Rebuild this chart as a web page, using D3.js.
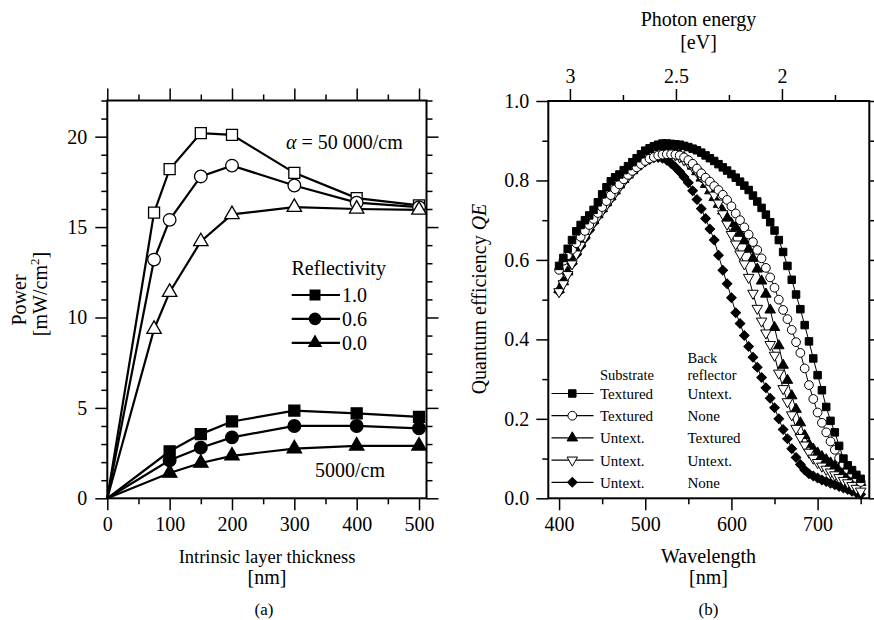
<!DOCTYPE html>
<html>
<head>
<meta charset="utf-8">
<script src="https://cdn.jsdelivr.net/npm/d3@7/dist/d3.min.js"></script>
<style>
  body { margin: 0; background: #fff; }
  svg text { font-family: "Liberation Serif", "Tinos", "Times New Roman", "Nimbus Roman", "DejaVu Serif", "Noto Serif", serif !important; fill: #000; }
</style>
</head>
<body>
<svg id="chart" width="874" height="620"></svg>
<script>
// ---- panel (a): power vs intrinsic layer thickness ----
const thickHigh = [0, 75, 100, 150, 200, 300, 400, 500]
const thickLow = [0, 100, 150, 200, 300, 400, 500]
const highR10 = [0, 15.8, 18.2, 20.2, 20.1, 18.0, 16.6, 16.2]
const highR06 = [0, 13.2, 15.4, 17.8, 18.4, 17.3, 16.35, 16.1]
const highR00 = [0, 9.35, 11.4, 14.2, 15.7, 16.1, 16.0, 15.95]
const lowR10 = [0, 2.6, 3.55, 4.25, 4.85, 4.7, 4.5]
const lowR06 = [0, 2.1, 2.8, 3.37, 4.0, 4.0, 3.87]
const lowR00 = [0, 1.4, 1.95, 2.35, 2.75, 2.9, 2.9]
const reflectivity = ["1.0", "0.6", "0.0"]
const thickMajor = [0, 100, 200, 300, 400, 500]
const thickMinor = [50, 150, 250, 350, 450]
const powerMajor = [0, 5, 10, 15, 20]
const powerMinor = [1, 2, 3, 4, 6, 7, 8, 9, 11, 12, 13, 14, 16, 17, 18, 19, 21, 22]

// ---- panel (b): quantum efficiency vs wavelength ----
const wavelength = [400, 405, 410, 415, 420, 425, 430, 435, 440, 445, 450, 455, 460, 465, 470, 475,
  480, 485, 490, 495, 500, 505, 510, 515, 520, 525, 530, 535, 540, 545, 550, 555, 560, 565, 570, 575,
  580, 585, 590, 595, 600, 605, 610, 615, 620, 625, 630, 635, 640, 645, 650, 655, 660, 665, 670, 675,
  680, 685, 690, 695, 700, 705, 710, 715, 720, 725, 730, 735, 740, 745, 750]
const qeTexUntext = [.585, .605, .628, .650, .672, .688, .700, .712, .726, .745, .765, .783, .798, .808, .815, .826,
  .836, .846, .856, .866, .875, .881, .886, .890, .893, .893, .892, .891, .890, .887, .884, .880, .876, .870, .863, .856,
  .849, .841, .833, .825, .816, .807, .797, .787, .776, .762, .747, .731, .714, .695, .674, .650, .620, .585, .550, .513,
  .476, .436, .395, .352, .310, .272, .230, .195, .166, .132, .100, .083, .071, .059, .049]
const qeTexNone = [.575, .598, .612, .626, .642, .658, .673, .688, .703, .718, .733, .748, .763, .778, .790, .803,
  .814, .824, .833, .841, .849, .855, .859, .863, .865, .866, .866, .865, .863, .858, .851, .842, .830, .818, .807, .797,
  .786, .776, .764, .751, .735, .717, .700, .682, .664, .645, .625, .604, .580, .556, .530, .500, .474, .451, .424, .393,
  .366, .327, .285, .250, .216, .190, .166, .143, .122, .101, .086, .073, .062, .051, .041]
const qeUntextTex = [.525, .545, .570, .598, .622, .643, .663, .683, .699, .714, .729, .744, .759, .774, .789, .803,
  .814, .825, .835, .845, .854, .861, .867, .872, .875, .876, .875, .872, .866, .858, .848, .836, .822, .806, .790, .774,
  .757, .740, .723, .706, .692, .682, .667, .648, .627, .604, .577, .547, .514, .474, .430, .384, .335, .297, .258, .224,
  .190, .158, .136, .124, .114, .105, .097, .089, .082, .075, .068, .061, .054, .047, .040]
const qeUntextUntext = [.520, .540, .563, .590, .615, .637, .657, .677, .694, .709, .724, .739, .754, .769, .784, .798,
  .810, .821, .831, .841, .850, .857, .863, .867, .869, .869, .867, .864, .859, .852, .844, .834, .822, .809, .796, .781,
  .763, .743, .716, .690, .664, .640, .615, .590, .556, .516, .478, .446, .416, .387, .360, .315, .276, .243, .210, .176,
  .153, .134, .116, .101, .090, .081, .073, .066, .059, .052, .045, .039, .032, .025, .018]
const qeUntextNone = [.520, .545, .566, .590, .613, .634, .654, .674, .693, .709, .724, .739, .754, .769, .784, .798,
  .810, .821, .831, .840, .847, .853, .857, .858, .856, .851, .843, .833, .822, .809, .794, .774, .752, .729, .704, .678,
  .650, .612, .574, .540, .505, .467, .440, .410, .382, .355, .330, .304, .278, .252, .228, .200, .173, .150, .125, .103,
  .085, .071, .062, .056, .051, .046, .042, .038, .034, .030, .026, .022, .018, .014, .010]
const substrate = ["Textured", "Textured", "Untext.", "Untext.", "Untext."]
const backReflector = ["Untext.", "None", "Textured", "Untext.", "None"]
const waveMajor = [400, 500, 600, 700]
const waveMinor = [450, 550, 650, 750]
const qeMajor = [0, 0.2, 0.4, 0.6, 0.8, 1.0]
const qeMinor = [0.1, 0.3, 0.5, 0.7, 0.9]
const energyMajor = [3, 2.5, 2]
const energyMinor = [2.75, 2.25, 1.75]

const svg = d3.select('#chart')
const FONT = 20

// symbols
const sq = (s) => d3.symbol().type(d3.symbolSquare).size(s)()
const ci = (s) => d3.symbol().type(d3.symbolCircle).size(s)()
const tri = (s) => d3.symbol().type(d3.symbolTriangle).size(s)()

function axisPair(g, axisFn, scale, majors, minors, fmt, pad, tr) {
    const a = g.append('g').attr('transform', tr)
        .call(axisFn(scale).tickValues(minors).tickSize(6).tickFormat(''))
    const b = g.append('g').attr('transform', tr)
        .call(axisFn(scale).tickValues(majors).tickSize(12).tickPadding(pad).tickFormat(fmt))
    for (const s of [a, b]) {
        s.select('.domain').remove()
        s.selectAll('line').attr('stroke', '#000').attr('stroke-width', 1.5)
        s.attr('font-size', FONT).attr('font-family', null)
    }
}

function frame(x, y) {
    svg.append('rect')
        .attr('x', x.range()[0]).attr('y', y.range()[1])
        .attr('width', x.range()[1] - x.range()[0])
        .attr('height', y.range()[0] - y.range()[1])
        .attr('fill', 'none').attr('stroke', '#000').attr('stroke-width', 2)
}

// ================= panel (a) =================
const xa = d3.scaleLinear().domain([0, 512]).range([107.3, 426.5])
const ya = d3.scaleLinear().domain([0, 22]).range([498.3, 100.5])
const ga = svg.append('g')

axisPair(ga, d3.axisBottom, xa, thickMajor, thickMinor, d3.format('d'), 7, `translate(0,${ya(0)})`)
axisPair(ga, d3.axisTop, xa, thickMajor, thickMinor, '', 0, `translate(0,${ya.range()[1]})`)
axisPair(ga, d3.axisLeft, ya, powerMajor, powerMinor, d3.format('d'), 8, `translate(${xa(0)},0)`)
axisPair(ga, d3.axisRight, ya, powerMajor, powerMinor, '', 0, `translate(${xa.range()[1]},0)`)

const lineA = d3.line()
const seriesA = [
    { x: thickHigh, y: highR10, shape: 'sq', fill: '#fff' },
    { x: thickHigh, y: highR06, shape: 'ci', fill: '#fff' },
    { x: thickHigh, y: highR00, shape: 'tri', fill: '#fff' },
    { x: thickLow, y: lowR10, shape: 'sq', fill: '#000' },
    { x: thickLow, y: lowR06, shape: 'ci', fill: '#000' },
    { x: thickLow, y: lowR00, shape: 'tri', fill: '#000' }
]
const bigSym = { sq: sq(121), ci: ci(125), tri: tri(90) }

seriesA.forEach(s => {
    const pts = s.x.map((v, i) => [xa(v), ya(s.y[i])])
    ga.append('path').attr('d', lineA(pts))
        .attr('fill', 'none').attr('stroke', '#000').attr('stroke-width', 2.2)
})
seriesA.forEach(s => {
    const pts = s.x.map((v, i) => [xa(v), ya(s.y[i])]).slice(1)
    ga.selectAll(null).data(pts).enter().append('path')
        .attr('d', bigSym[s.shape])
        .attr('transform', d => `translate(${d[0]},${d[1]})`)
        .attr('fill', s.fill).attr('stroke', '#000').attr('stroke-width', 1.3)
})

ga.append('text').attr('x', 286).attr('y', 149).attr('font-size', FONT)
    .html('<tspan font-style="italic">α</tspan> = 50 000/cm')
ga.append('text').attr('x', 315).attr('y', 477).attr('font-size', FONT).text('5000/cm')
ga.append('text').attr('x', 291.5).attr('y', 274.5).attr('font-size', FONT).text('Reflectivity')

const legA = ga.selectAll('.legA').data(reflectivity).enter().append('g')
    .attr('transform', (d, i) => `translate(0,${295 + i * 23.9})`)
legA.append('line').attr('x1', 291.7).attr('x2', 340).attr('stroke', '#000').attr('stroke-width', 2.2)
legA.append('path').attr('d', (d, i) => bigSym[['sq', 'ci', 'tri'][i]])
    .attr('transform', 'translate(315,0)').attr('fill', '#000')
legA.append('text').attr('x', 342).attr('y', 7.3).attr('font-size', FONT).text(d => d)

ga.append('text').attr('transform', 'translate(26,300) rotate(-90)')
    .attr('text-anchor', 'middle').attr('font-size', FONT).text('Power')
ga.append('text').attr('transform', 'translate(47,294) rotate(-90)')
    .attr('text-anchor', 'middle').attr('font-size', FONT)
    .html('[mW/cm<tspan font-size="13" dy="-8">2</tspan><tspan dy="8">]</tspan>')

ga.append('text').attr('x', 267).attr('y', 563).attr('text-anchor', 'middle').attr('font-size', 18.5)
    .text('Intrinsic layer thickness')
ga.append('text').attr('x', 267).attr('y', 584).attr('text-anchor', 'middle').attr('font-size', FONT).text('[nm]')
ga.append('text').attr('x', 264).attr('y', 615).attr('text-anchor', 'middle').attr('font-size', 17).text('(a)')

// ================= panel (b) =================
const xb = d3.scaleLinear().domain([387.5, 760]).range([548.3, 869.3])
const yb = d3.scaleLinear().domain([0, 1]).range([498.3, 101])
const eb = d3.scaleLinear().domain([3.102, 1.588]).range([548.3, 869.3])
const gb = svg.append('g')

axisPair(gb, d3.axisBottom, xb, waveMajor, waveMinor, d3.format('d'), 7, `translate(0,${yb(0)})`)
axisPair(gb, d3.axisTop, eb, energyMajor, energyMinor, d3.format('~g'), 6, `translate(0,${yb(1)})`)
axisPair(gb, d3.axisLeft, yb, qeMajor, qeMinor, d3.format('.1f'), 7, `translate(${xb.range()[0]},0)`)
axisPair(gb, d3.axisRight, yb, qeMajor, qeMinor, '', 0, `translate(${xb.range()[1]},0)`)

const smallSym = {
    sq: sq(56), ci: ci(60), tri: tri(48), itri: tri(48), di: sq(46)
}
const symRot = { sq: 0, ci: 0, tri: 0, itri: 180, di: 45 }
const seriesB = [
    { y: qeUntextNone, shape: 'di', fill: '#000' },
    { y: qeUntextTex, shape: 'tri', fill: '#000' },
    { y: qeUntextUntext, shape: 'itri', fill: '#fff' },
    { y: qeTexNone, shape: 'ci', fill: '#fff' },
    { y: qeTexUntext, shape: 'sq', fill: '#000' }
]
const lineB = d3.line().x((d, i) => xb(wavelength[i])).y(d => yb(d))
seriesB.forEach(s => {
    gb.append('path').attr('d', lineB(s.y))
        .attr('fill', 'none').attr('stroke', '#000').attr('stroke-width', 1)
    gb.selectAll(null).data(s.y).enter().append('path')
        .attr('d', smallSym[s.shape])
        .attr('transform', (d, i) => `translate(${xb(wavelength[i])},${yb(d)}) rotate(${symRot[s.shape]})`)
        .attr('fill', s.fill).attr('stroke', '#000').attr('stroke-width', 1)
})

// legend (b)
const legShapes = ['sq', 'ci', 'tri', 'itri', 'di']
const legFills = ['#000', '#fff', '#000', '#fff', '#000']
gb.append('text').attr('x', 600).attr('y', 380).attr('font-size', 14.5).text('Substrate')
gb.append('text').attr('x', 687.5).attr('y', 362.5).attr('font-size', 14.5).text('Back')
gb.append('text').attr('x', 687.5).attr('y', 380).attr('font-size', 14.5).text('reflector')
const legB = gb.selectAll('.legB').data(substrate).enter().append('g')
    .attr('transform', (d, i) => `translate(0,${393.5 + i * 22.2})`)
legB.append('line').attr('x1', 551.5).attr('x2', 593.5).attr('stroke', '#000').attr('stroke-width', 1.2)
legB.append('path').attr('d', (d, i) => smallSym[legShapes[i]])
    .attr('transform', (d, i) => `translate(572.3,0) rotate(${symRot[legShapes[i]]})`)
    .attr('fill', (d, i) => legFills[i]).attr('stroke', '#000').attr('stroke-width', 1)
legB.append('text').attr('x', 600).attr('y', 5.5).attr('font-size', 15).text(d => d)
legB.append('text').attr('x', 687.5).attr('y', 5.5).attr('font-size', 15).text((d, i) => backReflector[i])

gb.append('text').attr('transform', 'translate(486,299) rotate(-90)')
    .attr('text-anchor', 'middle').attr('font-size', FONT)
    .html('Quantum efficiency <tspan font-style="italic">QE</tspan>')
gb.append('text').attr('x', 708.5).attr('y', 563).attr('text-anchor', 'middle').attr('font-size', FONT).text('Wavelength')
gb.append('text').attr('x', 708.5).attr('y', 584).attr('text-anchor', 'middle').attr('font-size', FONT).text('[nm]')
gb.append('text').attr('x', 708.5).attr('y', 615).attr('text-anchor', 'middle').attr('font-size', 17).text('(b)')
gb.append('text').attr('x', 698.5).attr('y', 26).attr('text-anchor', 'middle').attr('font-size', FONT).text('Photon energy')
gb.append('text').attr('x', 698.5).attr('y', 49).attr('text-anchor', 'middle').attr('font-size', FONT).text('[eV]')

frame(xa, ya)
frame(xb, yb)
</script>
</body>
</html>
